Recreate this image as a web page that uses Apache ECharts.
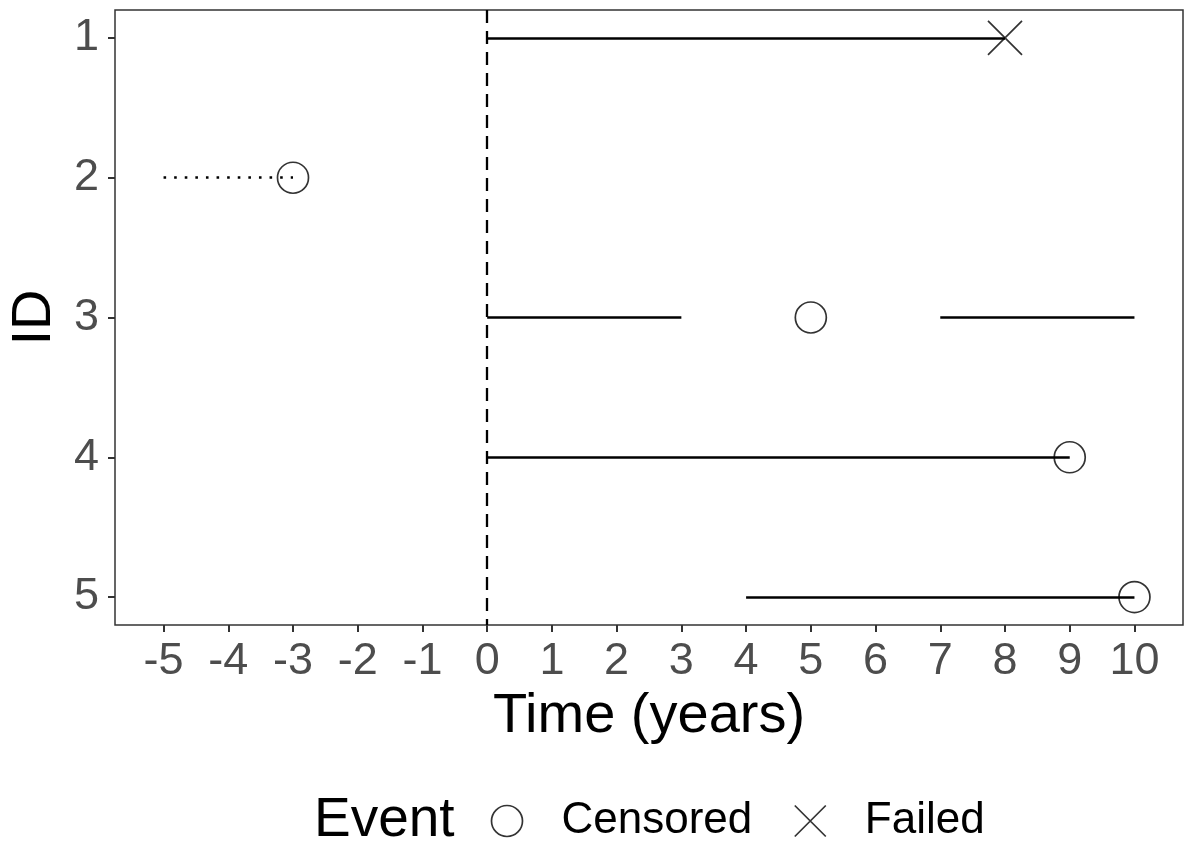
<!DOCTYPE html>
<html>
<head>
<meta charset="utf-8">
<script src="https://cdn.jsdelivr.net/npm/echarts@6/dist/echarts.min.js"></script>
<style>
  html, body { margin: 0; padding: 0; background: #fff; }
  #chart { width: 1188px; height: 848px; }
</style>
</head>
<body>
<div id="chart"></div>
<script>
// Subject IDs and x-axis tick positions
var ids = [1, 2, 3, 4, 5];
var timeTicks = [-5, -4, -3, -2, -1, 0, 1, 2, 3, 4, 5, 6, 7, 8, 9, 10];

// Observed follow-up segments (solid)
var segId   = [1, 3, 3, 4, 5];
var segFrom = [0, 0, 7, 0, 4];
var segTo   = [8, 3, 10, 9, 10];

// Pre-baseline follow-up (dotted)
var priorId   = [2];
var priorFrom = [-5];
var priorTo   = [-3];

// Events at end of follow-up
var eventId   = [1, 2, 3, 4, 5];
var eventTime = [8, -3, 5, 9, 10];
var eventType = ['Failed', 'Censored', 'Censored', 'Censored', 'Censored'];

var FONT = '"Liberation Sans", Arial, sans-serif';
var crossPath = 'path://M0,0L10,10M10,0L0,10';

function segments(idArr, fromArr, toArr) {
  return idArr.map(function (id, i) {
    return { coords: [[fromArr[i], id], [toArr[i], id]] };
  });
}
function eventsOf(type) {
  var out = [];
  eventId.forEach(function (id, i) {
    if (eventType[i] === type) out.push([eventTime[i], id]);
  });
  return out;
}

var chart = echarts.init(document.getElementById('chart'), null, { renderer: 'canvas' });

var markStyle = { color: 'none', borderColor: '#000', borderWidth: 1.7 };

chart.setOption({
  animation: false,
  backgroundColor: '#fff',
  textStyle: { fontFamily: FONT },
  title: {
    text: 'Event',
    left: 309,
    top: 788,
    textStyle: { fontFamily: FONT, fontSize: 55, fontWeight: 'normal', color: '#000' }
  },
  legend: {
    left: 484,
    top: 794,
    orient: 'horizontal',
    selectedMode: false,
    itemWidth: 31,
    itemHeight: 31,
    itemGap: 40,
    textStyle: { fontFamily: FONT, fontSize: 44, color: '#000', padding: [0, 0, 0, 34] },
    data: [
      { name: 'Censored', icon: 'circle', itemStyle: markStyle },
      { name: 'Failed', icon: crossPath, itemStyle: markStyle }
    ]
  },
  grid: {
    left: 115, right: 5, top: 10, bottom: 223,
    outerBoundsMode: 'none',
    containLabel: false,
    show: true, borderColor: '#333', borderWidth: 1.5, backgroundColor: '#fff'
  },
  xAxis: {
    type: 'value',
    min: -5.75,
    max: 10.75,
    name: 'Time (years)',
    nameLocation: 'middle',
    nameGap: 64,
    nameTextStyle: { fontFamily: FONT, fontSize: 56, color: '#000' },
    axisLine: { show: false, onZero: false },
    axisTick: { show: true, length: 7, customValues: timeTicks, lineStyle: { color: '#333', width: 2 } },
    axisLabel: { customValues: timeTicks, fontFamily: FONT, fontSize: 45, color: '#4d4d4d', margin: 14 },
    splitLine: { show: false }
  },
  yAxis: {
    type: 'value',
    min: 0.8,
    max: 5.2,
    inverse: true,
    name: 'ID',
    nameLocation: 'middle',
    nameGap: 52,
    nameRotate: 90,
    nameTextStyle: { fontFamily: FONT, fontSize: 56, color: '#000' },
    axisLine: { show: false, onZero: false },
    axisTick: { show: true, length: 7, customValues: ids, lineStyle: { color: '#333', width: 2 } },
    axisLabel: { customValues: ids, fontFamily: FONT, fontSize: 45, color: '#4d4d4d', margin: 16 },
    splitLine: { show: false }
  },
  series: [
    {
      name: 'followup',
      type: 'lines',
      coordinateSystem: 'cartesian2d',
      lineStyle: { color: '#000', width: 2.6, type: 'solid', opacity: 1 },
      data: segments(segId, segFrom, segTo),
      markLine: {
        silent: true,
        symbol: ['none', 'none'],
        label: { show: false },
        lineStyle: { color: '#000', width: 2.3, type: [13, 8] },
        data: [{ xAxis: 0 }]
      }
    },
    {
      name: 'prior',
      type: 'lines',
      coordinateSystem: 'cartesian2d',
      lineStyle: { color: '#000', width: 2.6, type: [2.6, 8], cap: 'butt', opacity: 1 },
      data: segments(priorId, priorFrom, priorTo)
    },
    {
      name: 'Censored',
      type: 'scatter',
      symbol: 'circle',
      symbolSize: 31,
      itemStyle: markStyle,
      data: eventsOf('Censored')
    },
    {
      name: 'Failed',
      type: 'scatter',
      symbol: crossPath,
      symbolSize: 34,
      itemStyle: markStyle,
      data: eventsOf('Failed')
    }
  ]
});
</script>
</body>
</html>
